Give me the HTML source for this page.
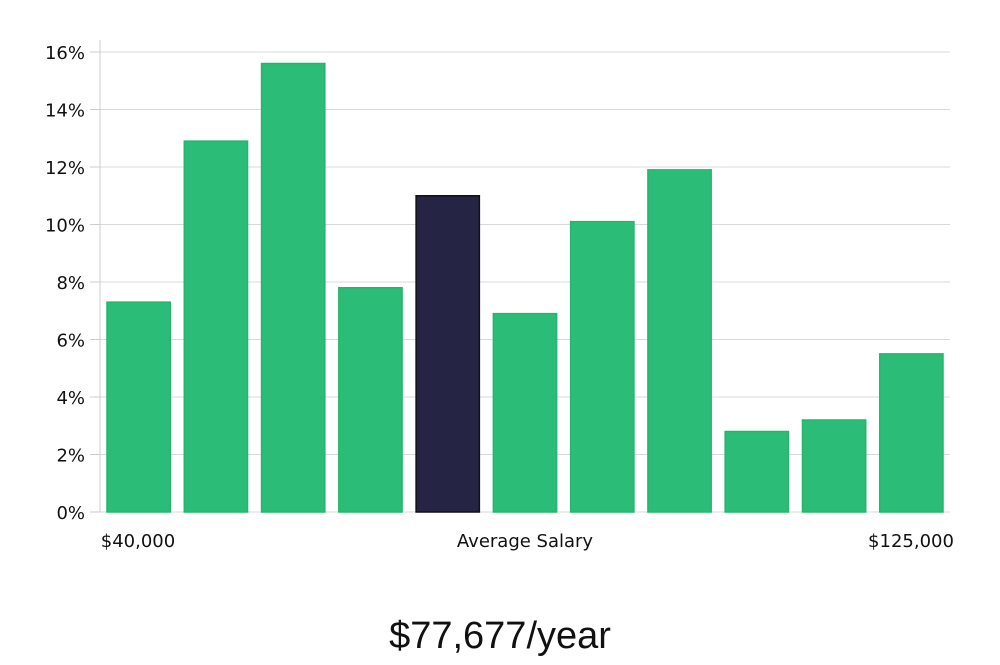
<!DOCTYPE html>
<html><head><meta charset="utf-8"><style>
body{margin:0;background:#fff;width:1000px;height:660px;overflow:hidden}
svg text{font-family:"DejaVu Sans",sans-serif;fill:#111}
</style></head><body>
<svg id="chart" width="1000" height="660"></svg>
<script>
const categories=["b1","b2","b3","b4","b5","b6","b7","b8","b9","b10","b11"];
const values=[7.3,12.9,15.6,7.8,11.0,6.9,10.1,11.9,2.8,3.2,5.5];
const highlight=[false,false,false,false,true,false,false,false,false,false,false];
const yTicks=[0,2,4,6,8,10,12,14,16];
const svg=document.getElementById('chart');
const NS='http://www.w3.org/2000/svg';
const x0=100,x1=950,yBase=512,yTop=52,yMax=16;
const y=v=>yBase-(v/yMax)*(yBase-yTop);
const step=(x1-x0)/categories.length;
function mk(t,a){const e=document.createElementNS(NS,t);for(const k in a)e.setAttribute(k,a[k]);svg.appendChild(e);return e;}
yTicks.forEach(t=>{
 const g=mk('line',{x1:x0,x2:x1,y1:y(t),y2:y(t),stroke:'#d9d9d9','stroke-width':1});
 
 
 const tk=mk('line',{x1:90,x2:x0,y1:y(t),y2:y(t),stroke:'#ccc','stroke-width':1});
 
 
 const l=mk('text',{x:85,y:y(t)+7,'text-anchor':'end','font-size':18});
 l.textContent=t+'%';
 
 
});
const ax=mk('line',{x1:x0,x2:x0,y1:40,y2:yBase,stroke:'#ccc','stroke-width':1});


values.forEach((v,i)=>{
 const bx=x0+i*step+7,bw=step-14;
 const r=mk('rect',{x:bx,y:y(v),width:bw,height:yBase-y(v),fill:highlight[i]?'#262445':'#2bbd77',stroke:highlight[i]?'#111':'#25b56f','stroke-width':1.5});
 
 
});
[[138,'$40,000','middle'],[525,'Average Salary','middle'],[911,'$125,000','middle']].forEach(([xx,t,a])=>{
 const l=mk('text',{x:xx,y:547,'text-anchor':a,'font-size':18});
 l.textContent=t;
 
 
});
const s=mk('text',{x:500,y:648,'text-anchor':'middle','font-size':38,style:'font-family:"Liberation Sans Narrow","Liberation Sans",sans-serif'});
s.textContent='$77,677/year';


</script>
</body></html>
